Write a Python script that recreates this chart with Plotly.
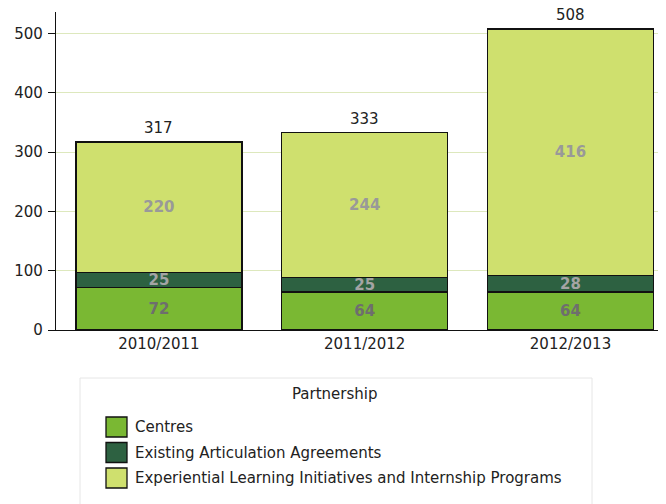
import plotly.graph_objects as go

years = ["2010/2011", "2011/2012", "2012/2013"]
series_names = [
    "Centres",
    "Existing Articulation Agreements",
    "Experiential Learning Initiatives and Internship Programs",
]
centres = [72, 64, 64]
articulation = [25, 25, 28]
experiential = [220, 244, 416]
totals = [317, 333, 508]

colors = ["#7ab833", "#2d6141", "#cfe06e"]
label_colors = ["#6e6e6e", "#a4a4a4", "#999999"]

# page body adds an 8px offset, so the figure is sized to fit the window
OFF = 8
W, H = 666 - OFF, 504 - OFF
L, R, T, B = 56 - OFF, 0, 12 - OFF, 504 - 330
PW, PH = W - L - R, H - T - B


def px(x, y):
    # screen pixel -> paper coordinates
    return (x - OFF - L) / PW, (H - B - (y - OFF)) / PH


fig = go.Figure()
for name, vals, col, lc in zip(series_names, [centres, articulation, experiential], colors, label_colors):
    fig.add_trace(go.Bar(
        x=years, y=vals, name=name,
        marker=dict(color=col, line=dict(color="#111111", width=1.3)),
        text=vals, textposition="inside", insidetextanchor="middle",
        constraintext="none",
        textfont=dict(family="DejaVu Sans", size=15, color=lc, weight="bold"),
        showlegend=False,
    ))

shapes = []
annotations = []
for yr, tot in zip(years, totals):
    annotations.append(dict(x=yr, y=tot, text=str(tot), showarrow=False,
                            yanchor="middle", yshift=14,
                            font=dict(family="DejaVu Sans", size=15, color="#222222")))

# legend box drawn by hand (swatches are larger than plotly's bar symbols)
x0, y0 = px(80, 378)
x1, y1 = px(592, 510)
shapes.append(dict(type="rect", xref="paper", yref="paper", x0=x0, y0=y0, x1=x1, y1=y1,
                   line=dict(color="#e6e6e6", width=1), fillcolor="white", layer="below"))
tx, ty = px(335, 394)
annotations.append(dict(xref="paper", yref="paper", x=tx, y=ty, text="Partnership",
                        showarrow=False, xanchor="center", yanchor="middle",
                        font=dict(family="DejaVu Sans", size=15, color="#222222")))
for i, (name, col) in enumerate(zip(series_names, colors)):
    cy = 427 + i * 25.5
    sx0, sy0 = px(106, cy - 10)
    sx1, sy1 = px(127, cy + 10)
    shapes.append(dict(type="rect", xref="paper", yref="paper", x0=sx0, y0=sy0, x1=sx1, y1=sy1,
                       line=dict(color="#111111", width=1.3), fillcolor=col))
    lx, ly = px(133, cy)
    annotations.append(dict(xref="paper", yref="paper", x=lx, y=ly, text=name,
                            showarrow=False, xanchor="left", yanchor="middle",
                            font=dict(family="DejaVu Sans", size=15, color="#222222")))

fig.update_layout(
    width=W, height=H,
    margin=dict(l=L, r=R, t=T, b=B),
    barmode="stack", bargap=0.193,
    plot_bgcolor="white", paper_bgcolor="white",
    shapes=shapes, annotations=annotations,
    uniformtext=dict(mode="show", minsize=15),
    xaxis=dict(
        range=[-0.5, 2.464], showgrid=False, showline=True, linecolor="#111111", linewidth=1.3,
        ticks="", tickfont=dict(family="DejaVu Sans", size=15, color="#222222"),
    ),
    yaxis=dict(
        range=[0, 536.5], tickvals=[0, 100, 200, 300, 400, 500],
        showgrid=True, gridcolor="#dde8bd", gridwidth=1, zeroline=False,
        showline=True, linecolor="#111111", linewidth=1.3,
        ticks="outside", ticklen=7, tickcolor="#111111", ticklabelstandoff=2,
        tickfont=dict(family="DejaVu Sans", size=15, color="#222222"),
    ),
)

fig.write_html("out.html")
